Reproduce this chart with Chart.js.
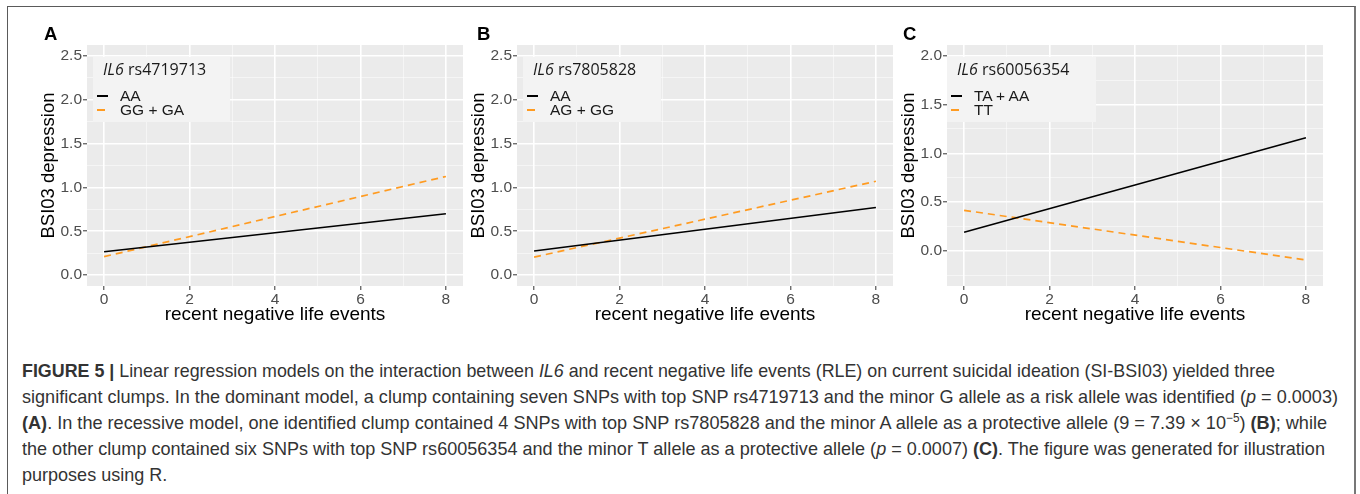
<!DOCTYPE html>
<html>
<head>
<meta charset="utf-8">
<script src="https://cdn.jsdelivr.net/npm/chart.js@4.4.1/dist/chart.umd.min.js"></script>
<style>
  body { margin: 0; width: 1360px; height: 494px; background: #fff; position: relative; overflow: hidden; }
  .frame { position: absolute; left: 7px; top: 6px; width: 1346px; height: 520px;
           border-left: 1.5px solid #5a5a5a; border-top: 1.5px solid #5a5a5a; border-right: 2.5px solid #777; }
  .plot { position: absolute; top: 20px; }
  .letter { position: absolute; top: 25px; font: bold 18.5px/18px "Liberation Sans", Arial, sans-serif; color: #000; }
  .legend { position: absolute; top: 57px; height: 65px; background: #f3f3f3; }
  .legend .ttl { position: absolute; left: 10px; top: 2px; font: 16px/20px "Open Sans", sans-serif; color: #1a1a1a; white-space: nowrap; }
  .legend .row { position: absolute; left: 27px; font: 15.5px/16px "Liberation Sans", Arial, sans-serif; color: #1a1a1a; white-space: nowrap; }
  .legend .key { position: absolute; left: 4px; height: 0; }
  .cap { position: absolute; left: 22px; font: 18.5px/26px "Liberation Sans", Arial, sans-serif;
         color: #333; white-space: nowrap; transform-origin: 0 50%; }
</style>
</head>
<body>
<div class="frame"></div>

<script>
// values (regression lines at RLE = 0 and 8)
const rleX = [0, 8];
const xLimits = [0, 8];
const xTicks = [0, 2, 4, 6, 8];

const yLimitsAB = [0, 2.5];
const yLimitsC = [-0.25, 2];
const yTicksAB = [0, 0.5, 1, 1.5, 2, 2.5];
const yTicksC = [0, 0.5, 1, 1.5, 2];

const gene = "IL6";
const snps = ["rs4719713", "rs7805828", "rs60056354"];
const groupsA = ["AA", "GG + GA"];
const groupsB = ["AA", "AG + GG"];
const groupsC = ["TA + AA", "TT"];

const aaA = [0.265, 0.70];
const ggA = [0.21, 1.125];
const aaB = [0.275, 0.77];
const agB = [0.205, 1.07];
const taC = [0.19, 1.16];
const ttC = [0.415, -0.095];

const xTitle = "recent negative life events";
const yTitle = "BSI03 depression";

const FONT = '"Liberation Sans", Arial, sans-serif';
const ORANGE = "#ff9b21";

// ggplot-style 5% expansion
function expand(lim) {
  const d = (lim[1] - lim[0]) * 0.05;
  return [lim[0] - d, lim[1] + d];
}

function withMinor(major, lo, hi) {
  const step = major[1] - major[0];
  const out = major.map(v => ({ value: v, mj: true }));
  major.forEach(v => {
    [v - step / 2, v + step / 2].forEach(m => {
      if (m >= lo && m <= hi && !out.some(t => Math.abs(t.value - m) < 1e-9)) out.push({ value: m, mj: false });
    });
  });
  return out.sort((a, b) => a.value - b.value);
}

const panelBg = {
  id: "panelBg",
  beforeDraw(chart) {
    const { ctx, chartArea: a } = chart;
    ctx.save();
    ctx.fillStyle = "#ebebeb";
    ctx.fillRect(a.left, a.top, a.width, a.height);
    ctx.restore();
  }
};

const isMj = c => c.tick && c.tick.mj;

function makeChart(p) {
  const cv = document.createElement("canvas");
  cv.className = "plot";
  cv.width = 450;
  cv.height = 310;
  cv.style.left = p.left + "px";
  document.body.appendChild(cv);

  const xr = expand(xLimits);
  const yr = expand(p.ylim);
  const xt = withMinor(xTicks, xr[0], xr[1]);
  const yt = withMinor(p.yticks, yr[0], yr[1]);

  const grid = {
    color: c => (isMj(c) ? "#ffffff" : "rgba(255,255,255,0.75)"),
    lineWidth: c => (isMj(c) ? 1.6 : 0.7),
    tickLength: 4,
    tickColor: c => (isMj(c) ? "#333333" : "rgba(0,0,0,0)"),
    tickWidth: 1
  };

  new Chart(cv, {
    type: "line",
    data: {
      datasets: [
        { data: rleX.map((x, i) => ({ x, y: p.s1[i] })), borderColor: "#000", borderWidth: 1.6, pointRadius: 0 },
        { data: rleX.map((x, i) => ({ x, y: p.s2[i] })), borderColor: ORANGE, borderWidth: 1.7, borderDash: [7, 5], pointRadius: 0 }
      ]
    },
    options: {
      responsive: false,
      animation: false,
      devicePixelRatio: 1,
      events: [],
      layout: { padding: { top: 25, right: 7, left: 0, bottom: 0 } },
      plugins: { legend: { display: false }, tooltip: { enabled: false } },
      scales: {
        x: {
          type: "linear", min: xr[0], max: xr[1],
          afterBuildTicks: s => { s.ticks = xt.map(t => ({ ...t })); },
          afterFit: s => { s.height = 44; },
          grid, border: { display: false },
          ticks: { color: "#4d4d4d", font: { family: FONT, size: 15.5 }, padding: 0, autoSkip: false, maxRotation: 0,
                   callback: (v, i, ts) => (ts[i].mj ? String(v) : "") },
          title: { display: true, text: xTitle, color: "#000", font: { family: FONT, size: 19, lineHeight: 1 },
                   padding: { top: 0, bottom: 6 } }
        },
        y: {
          type: "linear", min: yr[0], max: yr[1],
          afterBuildTicks: s => { s.ticks = yt.map(t => ({ ...t })); },
          afterFit: s => { s.width = 67; },
          grid, border: { display: false },
          ticks: { color: "#4d4d4d", font: { family: FONT, size: 15.5 }, padding: 1, autoSkip: false,
                   callback: (v, i, ts) => (ts[i].mj ? v.toFixed(1) : "") },
          title: { display: true, text: yTitle, color: "#000", font: { family: FONT, size: 18.5, lineHeight: 1 },
                   padding: { top: 20, bottom: 0 } }
        }
      }
    },
    plugins: [panelBg]
  });

  const lt = document.createElement("div");
  lt.className = "letter";
  lt.style.left = p.letterX + "px";
  lt.textContent = p.letter;
  document.body.appendChild(lt);

  const lg = document.createElement("div");
  lg.className = "legend";
  lg.style.left = p.legX + "px";
  lg.style.width = p.legW + "px";
  lg.innerHTML =
    '<div class="ttl"><i>' + gene + "</i> " + p.snp + "</div>" +
    '<div class="key" style="top:38px;width:11px;border-top:2px solid #000"></div>' +
    '<div class="row" style="top:31px">' + p.groups[0] + "</div>" +
    '<div class="key" style="top:52px;width:8px;border-top:2px solid ' + ORANGE + '"></div>' +
    '<div class="row" style="top:45px">' + p.groups[1] + "</div>";
  document.body.appendChild(lg);
}

makeChart({ left: 20, letter: "A", letterX: 44, ylim: yLimitsAB, yticks: yTicksAB, s1: aaA, s2: ggA,
            snp: snps[0], groups: groupsA, legX: 93, legW: 137 });
makeChart({ left: 450, letter: "B", letterX: 477, ylim: yLimitsAB, yticks: yTicksAB, s1: aaB, s2: agB,
            snp: snps[1], groups: groupsB, legX: 523, legW: 138 });
makeChart({ left: 880, letter: "C", letterX: 903, ylim: yLimitsC, yticks: yTicksC, s1: taC, s2: ttC,
            snp: snps[2], groups: groupsC, legX: 947, legW: 149 });

// caption: condensed look via horizontal scaling, one scale for every line
const captionLines = [
  "<b>FIGURE 5 |</b> Linear regression models on the interaction between <i>IL6</i> and recent negative life events (RLE) on current suicidal ideation (SI-BSI03) yielded three",
  "significant clumps. In the dominant model, a clump containing seven SNPs with top SNP rs4719713 and the minor G allele as a risk allele was identified (<i>p</i> = 0.0003)",
  "<b>(A)</b>. In the recessive model, one identified clump contained 4 SNPs with top SNP rs7805828 and the minor A allele as a protective allele (9 = 7.39 × 10<sup style=\"font-size:12px;line-height:0\">−5</sup>) <b>(B)</b>; while",
  "the other clump contained six SNPs with top SNP rs60056354 and the minor T allele as a protective allele (<i>p</i> = 0.0007) <b>(C)</b>. The figure was generated for illustration",
  "purposes using R."
];
const captionEnds = [1275, 1338, 1327, 1325];
const caps = captionLines.map((html, i) => {
  const d = document.createElement("div");
  d.className = "cap";
  d.style.top = (358 + i * 26) + "px";
  d.innerHTML = html;
  document.body.appendChild(d);
  return d;
});
const scales = captionEnds.map((e, i) => (e - 22) / caps[i].getBoundingClientRect().width);
const avg = scales.reduce((a, b) => a + b, 0) / scales.length;
caps.forEach((d, i) => {
  const k = i < scales.length ? scales[i] : avg;
  d.style.transform = "scaleX(" + k.toFixed(4) + ")";
});
</script>
</body>
</html>
